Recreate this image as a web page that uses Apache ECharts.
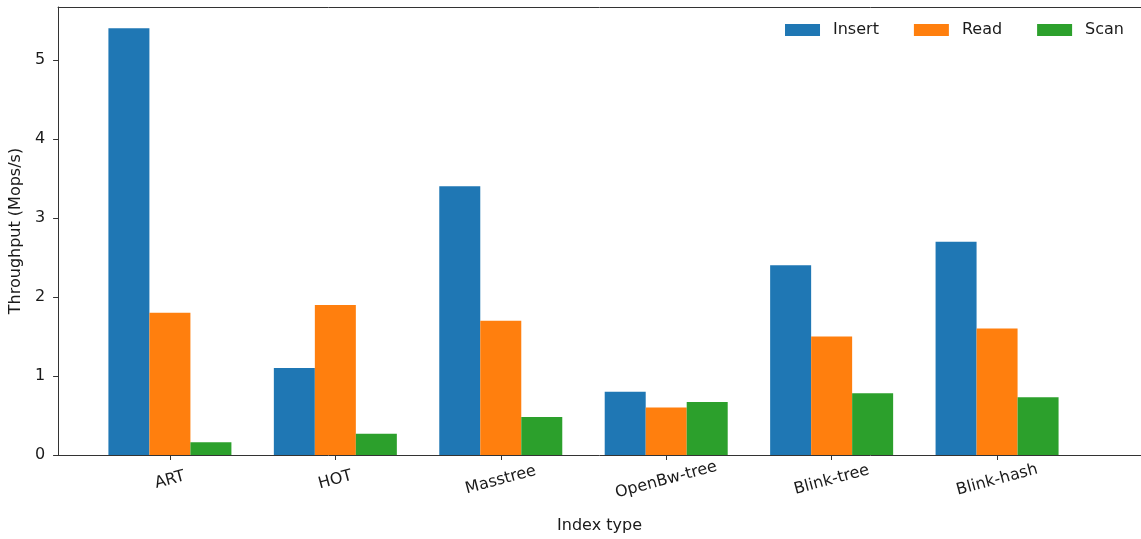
<!DOCTYPE html>
<html>
<head>
<meta charset="utf-8">
<script src="https://cdn.jsdelivr.net/npm/echarts@6/dist/echarts.min.js"></script>
<style>
  html, body { margin: 0; padding: 0; background: #fff; }
  #chart { width: 1141px; height: 539px; }
</style>
</head>
<body>
<div id="chart"></div>
<script>
const categories = ['ART', 'HOT', 'Masstree', 'OpenBw-tree', 'Blink-tree', 'Blink-hash'];
const insertValues = [5.4, 1.1, 3.4, 0.8, 2.4, 2.7];
const readValues = [1.8, 1.9, 1.7, 0.6, 1.5, 1.6];
const scanValues = [0.16, 0.27, 0.48, 0.67, 0.78, 0.73];
const yTicks = [0, 1, 2, 3, 4, 5];

const font = '"DejaVu Sans", sans-serif';
const ink = '#1a1a1a';
const spine = '#333';

// bars sit on a numeric x axis so the plot can have matplotlib-style margins
const toPoints = (vals) => vals.map((v, i) => [i, v]);
const catIndex = categories.map((_, i) => i);
const xMin = -0.676;
const xMax = 5.87;

const barSeries = (name, vals, color) => ({
  name,
  type: 'bar',
  data: toPoints(vals),
  barWidth: 41,
  barGap: '0%',
  itemStyle: { color },
});

const chart = echarts.init(document.getElementById('chart'));
chart.setOption({
  animation: false,
  textStyle: { fontFamily: font },
  // no right spine: the original is cropped at the right edge
  grid: { left: 57, right: 0, top: 7, bottom: 83 },
  legend: {
    right: 12, top: 17,
    icon: 'rect',
    itemWidth: 35, itemHeight: 12, itemGap: 35,
    textStyle: { fontFamily: font, fontSize: 16, color: ink, padding: [0, 0, 0, 8] },
    data: ['Insert', 'Read', 'Scan'],
  },
  xAxis: [
    {
      type: 'value',
      min: xMin, max: xMax,
      name: 'Index type',
      nameLocation: 'middle',
      nameGap: 63,
      nameTextStyle: { fontFamily: font, fontSize: 16, color: ink },
      splitLine: { show: false },
      axisLine: { show: true, onZero: false, lineStyle: { color: spine, width: 1 } },
      axisTick: { show: true, length: 5, lineStyle: { color: spine }, customValues: catIndex },
      axisLabel: {
        customValues: catIndex,
        formatter: (v) => categories[Math.round(v)] || '',
        rotate: 15,
        align: 'center',
        verticalAlign: 'middle',
        margin: 25,
        fontFamily: font, fontSize: 16, color: ink,
      },
    },
    {
      // top spine only
      type: 'value',
      position: 'top',
      min: xMin, max: xMax,
      splitLine: { show: false },
      axisLine: { show: true, onZero: false, lineStyle: { color: spine, width: 1 } },
      axisTick: { show: false },
      axisLabel: { show: false },
    },
  ],
  yAxis: {
    type: 'value',
    min: 0, max: 5.67, interval: 1,
    name: 'Throughput (Mops/s)',
    nameLocation: 'middle',
    nameGap: 30,
    nameTextStyle: { fontFamily: font, fontSize: 16, color: ink },
    splitLine: { show: false },
    axisLine: { show: true, onZero: false, lineStyle: { color: spine, width: 1 } },
    axisTick: { show: true, length: 5, lineStyle: { color: spine }, customValues: yTicks },
    axisLabel: {
      customValues: yTicks,
      margin: 13,
      fontFamily: font, fontSize: 16, color: ink,
    },
  },
  series: [
    barSeries('Insert', insertValues, '#1f77b4'),
    barSeries('Read', readValues, '#ff7f0e'),
    barSeries('Scan', scanValues, '#2ca02c'),
  ],
});
</script>
</body>
</html>
